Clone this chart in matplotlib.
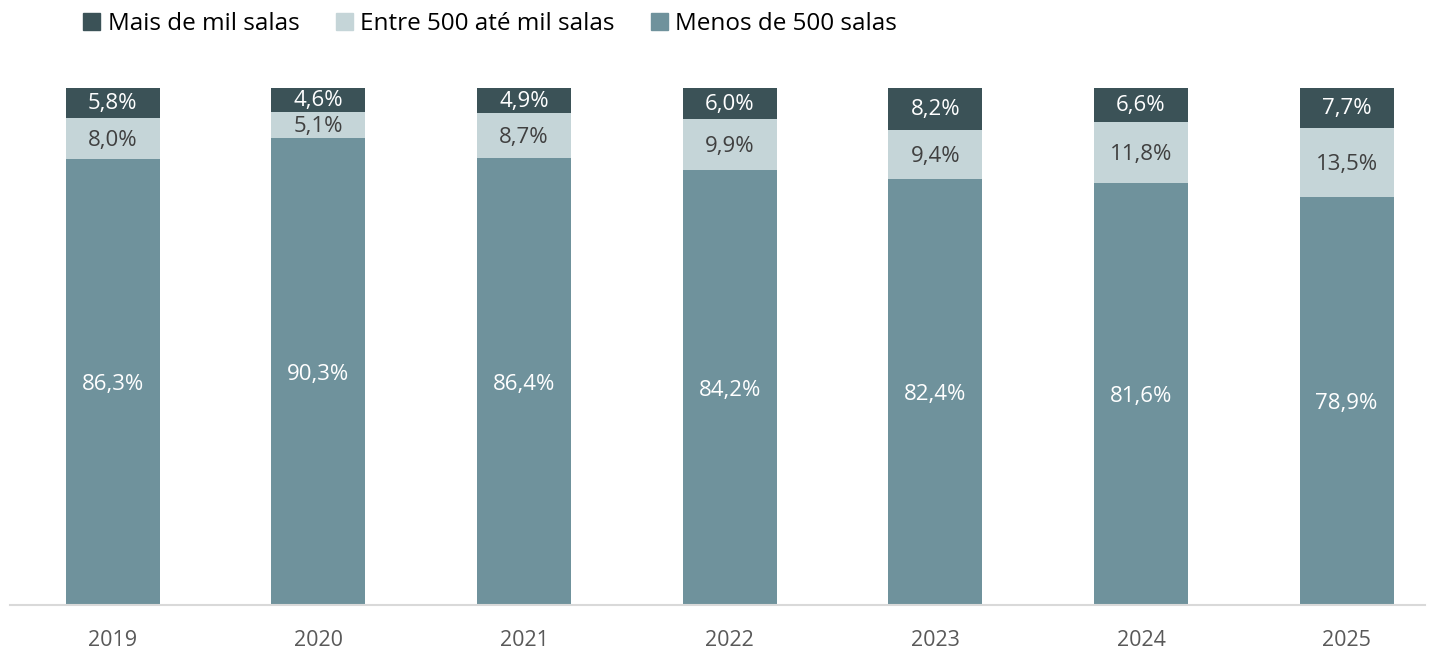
import numpy as np
import matplotlib.pyplot as plt
from matplotlib.patches import Patch

plt.rcParams['font.family'] = ['Open Sans', 'DejaVu Sans']

anos = ["2019", "2020", "2021", "2022", "2023", "2024", "2025"]
menos_500 = [86.3, 90.3, 86.4, 84.2, 82.4, 81.6, 78.9]
entre_500_mil = [8.0, 5.1, 8.7, 9.9, 9.4, 11.8, 13.5]
mais_mil = [5.8, 4.6, 4.9, 6.0, 8.2, 6.6, 7.7]

cor_menos = "#6f929c"
cor_entre = "#c5d5d8"
cor_mais = "#3b5257"

fig = plt.figure(figsize=(14.29, 6.5), dpi=100)
ax = fig.add_axes([0.007, 0.069, 0.99, 0.796])

x = np.arange(len(anos))
tot = np.array(menos_500) + np.array(entre_500_mil) + np.array(mais_mil)
a = np.array(menos_500) / tot * 100
b = np.array(entre_500_mil) / tot * 100
c = np.array(mais_mil) / tot * 100
w = 0.457

ax.bar(x, a, w, color=cor_menos)
ax.bar(x, b, w, bottom=a, color=cor_entre)
ax.bar(x, c, w, bottom=a + b, color=cor_mais)

for i in range(len(anos)):
    ax.text(x[i], a[i] / 2 - 0.5, f"{menos_500[i]:.1f}%".replace(".", ","), ha="center", va="center",
            color="white", fontsize=16)
    ax.text(x[i], a[i] + b[i] / 2 - 0.4, f"{entre_500_mil[i]:.1f}%".replace(".", ","), ha="center", va="center",
            color="#404040", fontsize=16)
    ax.text(x[i], a[i] + b[i] + c[i] / 2 - 0.2, f"{mais_mil[i]:.1f}%".replace(".", ","), ha="center", va="center",
            color="white", fontsize=16)

ax.set_xlim(-0.5, 6.38)
ax.set_ylim(0, 100)
ax.set_xticks(x)
ax.set_xticklabels(anos, fontsize=15.5, color="#595959")
ax.tick_params(axis="x", length=0, pad=18)
ax.set_yticks([])
for s in ["top", "right", "left"]:
    ax.spines[s].set_visible(False)
ax.spines["bottom"].set_color("#d9d9d9")
ax.spines["bottom"].set_linewidth(1.5)

handles = [Patch(color=cor_mais), Patch(color=cor_entre), Patch(color=cor_menos)]
labels = ["Mais de mil salas", "Entre 500 até mil salas", "Menos de 500 salas"]
fig.legend(handles, labels, loc="upper left", bbox_to_anchor=(0.043, 1.015), ncol=3, frameon=False,
           fontsize=17.5, handlelength=0.7, handleheight=0.7, handletextpad=0.3, columnspacing=1.5)

fig.savefig("out.png", dpi=100)
